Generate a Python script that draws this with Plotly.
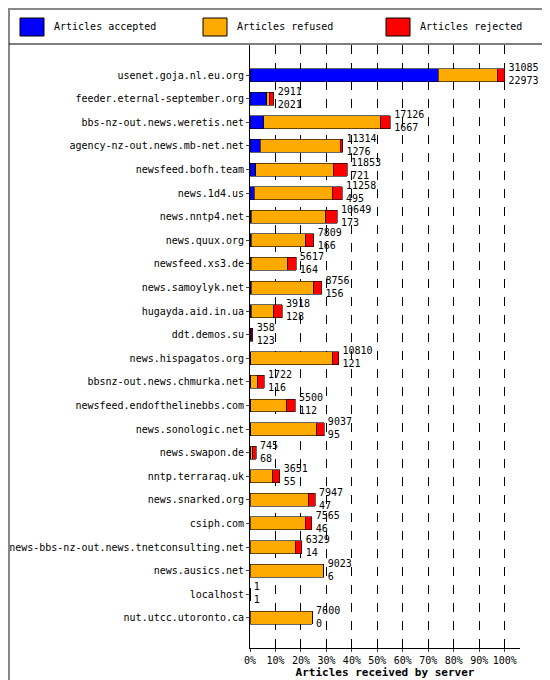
import plotly.graph_objects as go

servers = ["usenet.goja.nl.eu.org","feeder.eternal-september.org","bbs-nz-out.news.weretis.net",
"agency-nz-out.news.mb-net.net","newsfeed.bofh.team","news.1d4.us","news.nntp4.net","news.quux.org",
"newsfeed.xs3.de","news.samoylyk.net","hugayda.aid.in.ua","ddt.demos.su","news.hispagatos.org",
"bbsnz-out.news.chmurka.net","newsfeed.endofthelinebbs.com","news.sonologic.net","news.swapon.de",
"nntp.terraraq.uk","news.snarked.org","csiph.com","news-bbs-nz-out.news.tnetconsulting.net",
"news.ausics.net","localhost","nut.utcc.utoronto.ca"]
offered = [31085,2911,17126,11314,11853,11258,10649,7809,5617,8756,3918,358,10810,1722,5500,9037,745,3651,7947,7565,6329,9023,1,7600]
accepted = [22973,2021,1667,1276,721,495,173,166,164,156,128,123,121,116,112,95,68,55,47,46,14,6,1,0]
rejected = [900,590,1200,300,1700,1200,1400,1000,1000,1000,1000,235,700,800,1000,900,400,900,800,800,800,0,0,0]
refused = [o-a-r for o,a,r in zip(offered,accepted,rejected)]
series = ["Articles accepted", "Articles refused", "Articles rejected"]
colors = ["#0000ff", "#ffaa00", "#ff0000"]

mx = max(offered)
pct = lambda v: [x/mx*100 for x in v]

L, R, T, B, W, H = 242, 38, 37, 40, 550, 680
pw, ph = W-L-R, H-T-B
px = lambda x: (x-L)/pw
py = lambda y: (H-B-y)/ph

fig = go.Figure()
for name, vals, col in zip(series, [accepted, refused, rejected], colors):
    fig.add_bar(y=servers, x=pct(vals), name=name, orientation="h", showlegend=False,
                marker=dict(color=col, line=dict(color="#000000", width=0.6)), width=0.55)
fig.add_scatter(y=servers, x=[p+1.5 for p in pct(offered)], mode="text",
                text=[f"{o}<br>{a}" for o,a in zip(offered,accepted)],
                textposition="middle right", textfont=dict(size=10, color="black"),
                showlegend=False, cliponaxis=False)

shapes = [dict(type="rect", xref="paper", yref="paper", x0=px(1), x1=px(549),
               y0=py(679), y1=py(1), line=dict(color="#888888", width=2)),
          dict(type="line", xref="paper", yref="paper", x0=px(1), x1=px(549),
               y0=py(36), y1=py(36), line=dict(color="black", width=1))]
annotations = []
for i, (name, col) in enumerate(zip(series, colors)):
    x0 = 12 + i*183
    shapes.append(dict(type="rect", xref="paper", yref="paper", x0=px(x0), x1=px(x0+24),
                       y0=py(28), y1=py(10), fillcolor=col, line=dict(color="black", width=1)))
    annotations.append(dict(xref="paper", yref="paper", x=px(x0+32), y=py(19), text=name,
                            showarrow=False, xanchor="left", yanchor="middle",
                            font=dict(size=10)))

fig.update_layout(
    width=W, height=H, barmode="stack",
    margin=dict(l=L, r=R, t=T, b=B, autoexpand=False),
    paper_bgcolor="white", plot_bgcolor="white",
    font=dict(family="DejaVu Sans Mono", size=10, color="black"),
    showlegend=False,
    xaxis=dict(range=[0,106], tickvals=list(range(0,101,10)),
               ticktext=[f"{v}%" for v in range(0,101,10)], automargin=False,
               showgrid=True, gridcolor="black", griddash="dash", gridwidth=0.6,
               showline=True, linecolor="black", ticks="outside", ticklen=3,
               title=dict(text="<b>Articles received by server</b>", standoff=2, font=dict(size=11)),
               zeroline=False),
    yaxis=dict(autorange="reversed", showline=True, linecolor="black", ticks="outside",
               ticklen=3, tickfont=dict(size=10), automargin=False),
    shapes=shapes, annotations=annotations,
)
fig.write_html("out.html")
